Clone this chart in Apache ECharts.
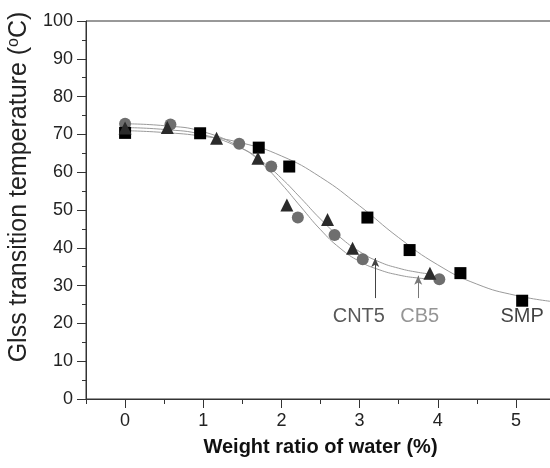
<!DOCTYPE html>
<html>
<head>
<meta charset="utf-8">
<script src="https://cdn.jsdelivr.net/npm/echarts@6/dist/echarts.min.js"></script>
<style>html,body{margin:0;padding:0;background:#fff;}#c{width:550px;height:468px;}</style>
</head>
<body>
<div id="c"></div>
<script>
// Measured data points
var smpX = [0, 0.96, 1.71, 2.10, 3.10, 3.64, 4.29, 5.08];
var smpY = [70.4, 70.3, 66.5, 61.5, 48.0, 39.4, 33.3, 26.0];
var cnt5X = [0, 0.54, 1.17, 1.70, 2.07, 2.59, 2.91, 3.90];
var cnt5Y = [71.7, 71.8, 69.0, 63.7, 51.3, 47.5, 39.9, 33.3];
var cb5X = [0, 0.58, 1.46, 1.87, 2.21, 2.68, 3.04, 4.02];
var cb5Y = [72.8, 72.6, 67.5, 61.5, 48.0, 43.4, 37.0, 31.7];

// Fitted curves
var smpFitX = [0, 0.5, 1, 1.5, 2, 2.5, 3, 3.5, 4, 4.5, 5, 5.5];
var smpFitY = [71.0, 70.5, 69.5, 67.7, 64.3, 58.7, 51.1, 42.7, 35.5, 30.4, 27.4, 25.7];
var cnt5FitX = [0, 0.5, 1, 1.5, 1.75, 2, 2.25, 2.5, 2.75, 3, 3.25, 3.5, 3.75, 3.9];
var cnt5FitY = [71.8, 71.3, 69.9, 66.2, 62.9, 58.4, 53.1, 47.6, 42.8, 39.0, 36.3, 34.6, 33.5, 33.1];
var cb5FitX = [0, 0.5, 1, 1.5, 1.75, 2, 2.25, 2.5, 2.75, 3, 3.25, 3.5, 3.75, 4.0];
var cb5FitY = [72.8, 72.3, 70.7, 66.3, 62.3, 56.9, 50.8, 44.8, 39.9, 36.4, 34.2, 32.8, 32.0, 31.6];

// Annotations
var labelText = ['CNT5', 'CB5', 'SMP'];
var labelX = [2.99, 3.77, 5.08];
var labelY = [21.7, 21.7, 21.7];
var labelColor = ['#2e2e2e', '#7a7a7a', '#111111'];
var arrowX = [3.2, 3.75];
var arrowFrom = [26.7, 26.7];
var arrowTo = [37.3, 32.6];
var arrowColor = ['#444444', '#777777'];

// Axis ticks
var yTicks = [0, 10, 20, 30, 40, 50, 60, 70, 80, 90, 100];
var xTicks = [0, 1, 2, 3, 4, 5];

function pairs(xs, ys) { return xs.map(function (x, i) { return [x, ys[i]]; }); }

var FONT = '"Liberation Sans", Arial, sans-serif';
var chart = echarts.init(document.getElementById('c'), null, { renderer: 'canvas' });

var fitStyle = { color: '#9a9a9a', width: 1 };

var option = {
  animation: false,
  backgroundColor: '#ffffff',
  grid: { left: 86, top: 21, height: 378, width: 469, containLabel: false, outerBoundsMode: 'none', show: true, borderColor: '#333', borderWidth: 1, backgroundColor: 'transparent' },
  xAxis: [{
    type: 'value', min: -0.5, max: 5.5, interval: 0.5,
    position: 'bottom',
    name: 'Weight ratio of water (%)', nameLocation: 'middle', nameGap: 38,
    nameTextStyle: { fontFamily: FONT, fontSize: 20, fontWeight: 'bold', color: '#111' },
    axisLine: { show: true, onZero: false, lineStyle: { color: '#333', width: 1 } },
    axisTick: { show: true, length: 5, lineStyle: { color: '#333' } },
    axisLabel: {
      margin: 13, fontFamily: FONT, fontSize: 18, color: '#222',
      formatter: function (v) { return xTicks.indexOf(v) >= 0 ? String(v) : ''; }
    },
    splitLine: { show: false }
  }, {
    type: 'value', min: -0.5, max: 5.5, position: 'bottom', gridIndex: 0,
    axisLine: { show: false, onZero: false },
    axisTick: { show: true, length: 9, customValues: xTicks, lineStyle: { color: '#333' } },
    axisLabel: { show: false },
    splitLine: { show: false }
  }],
  yAxis: {
    type: 'value', min: 0, max: 100, interval: 10,
    name: '{a|Glss transition temperature (}{s|o}{a|C)}',
    nameLocation: 'middle', nameGap: 45,
    nameTextStyle: {
      padding: [0, 0, 0, 46],
      rich: {
        a: { fontFamily: FONT, fontSize: 25, color: '#222' },
        s: { fontFamily: FONT, fontSize: 16, color: '#222', verticalAlign: 'top', padding: [0, 0, 12, 0] }
      }
    },
    axisLine: { show: true, onZero: false, lineStyle: { color: '#333', width: 1 } },
    axisTick: { show: true, length: 9, lineStyle: { color: '#333' } },
    minorTick: { show: true, splitNumber: 2, length: 4, lineStyle: { color: '#333' } },
    axisLabel: { margin: 13, fontFamily: FONT, fontSize: 18, color: '#222' },
    splitLine: { show: false }
  },
  series: [
    { name: 'SMP fit', type: 'line', smooth: true, showSymbol: false, symbol: 'none', data: pairs(smpFitX, smpFitY), lineStyle: fitStyle, z: 2 },
    { name: 'CNT5 fit', type: 'line', smooth: true, showSymbol: false, symbol: 'none', data: pairs(cnt5FitX, cnt5FitY), lineStyle: fitStyle, z: 2 },
    { name: 'CB5 fit', type: 'line', smooth: true, showSymbol: false, symbol: 'none', data: pairs(cb5FitX, cb5FitY), lineStyle: fitStyle, z: 2 },
    { name: 'SMP', type: 'scatter', symbol: 'rect', symbolSize: 12, itemStyle: { color: '#000', opacity: 1 }, data: pairs(smpX, smpY), z: 5 },
    { name: 'CB5', type: 'scatter', symbol: 'circle', symbolSize: 12, itemStyle: { color: '#6e6e6e', opacity: 1 }, data: pairs(cb5X, cb5Y), z: 4 },
    { name: 'CNT5', type: 'scatter', symbol: 'triangle', symbolSize: 13, itemStyle: { color: '#2b2b2b', opacity: 1 }, data: pairs(cnt5X, cnt5Y), z: 6 },
    {
      name: 'labels', type: 'scatter', symbolSize: 0, silent: true, z: 7,
      data: labelText.map(function (t, i) {
        return {
          value: [labelX[i], labelY[i]], name: t,
          label: { show: true, position: 'inside', formatter: t, fontFamily: FONT, fontSize: 20, color: labelColor[i] }
        };
      }),
      markLine: {
        silent: true, symbol: ['none', 'arrow'], symbolSize: [6, 9], label: { show: false },
        data: arrowX.map(function (x, i) {
          return [
            { coord: [x, arrowFrom[i]], lineStyle: { color: arrowColor[i], width: 1, type: 'solid', opacity: 1 }, itemStyle: { color: arrowColor[i] } },
            { coord: [x, arrowTo[i]] }
          ];
        })
      }
    }
  ]
};
chart.setOption(option);
</script>
</body>
</html>
